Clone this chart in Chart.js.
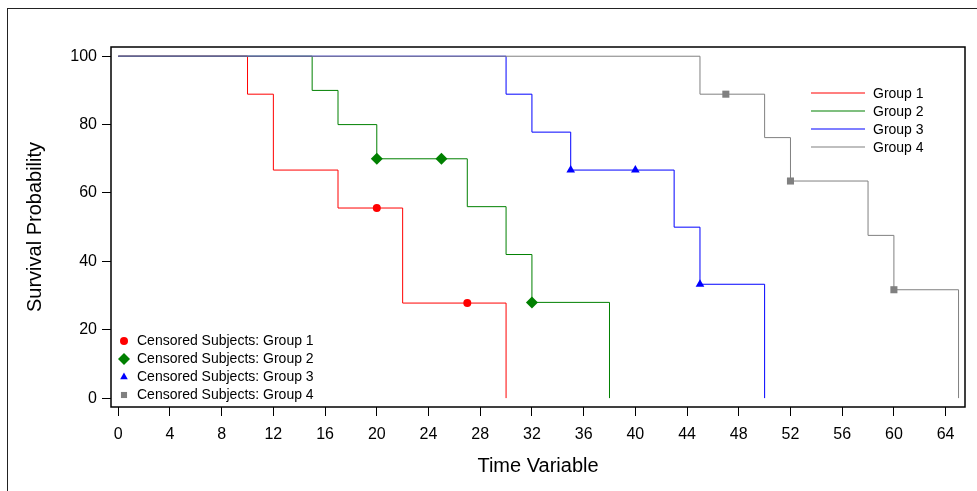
<!DOCTYPE html>
<html><head><meta charset="utf-8">
<script src="https://cdn.jsdelivr.net/npm/chart.js@4"></script>
<style>
html,body{margin:0;padding:0;background:#fff;}
#wrap{position:relative;width:977px;height:491px;overflow:hidden;background:#fff;}
#frame{position:absolute;left:7px;top:8px;width:1000px;height:600px;border-left:1px solid #222;border-top:1px solid #222;pointer-events:none;}
canvas{position:absolute;left:0;top:0;}
</style></head><body>
<div id="wrap"><canvas id="c" width="977" height="491"></canvas><div id="frame"></div></div>
<script>
// ---- data ----
const groupLabels = ['Group 1', 'Group 2', 'Group 3', 'Group 4'];
const censorLabels = ['Censored Subjects: Group 1', 'Censored Subjects: Group 2', 'Censored Subjects: Group 3', 'Censored Subjects: Group 4'];

const group1Times = [0, 10, 12, 17, 22, 30];
const group1Surv  = [100, 88.9, 66.7, 55.6, 27.8, 0];
const group2Times = [0, 15, 17, 20, 27, 30, 32, 38];
const group2Surv  = [100, 90, 80, 70, 56, 42, 28, 0];
const group3Times = [0, 30, 32, 35, 43, 45, 50];
const group3Surv  = [100, 88.9, 77.8, 66.7, 50, 33.3, 0];
const group4Times = [0, 45, 50, 52, 58, 60, 65];
const group4Surv  = [100, 88.9, 76.2, 63.5, 47.6, 31.7, 0];

const cens1Times = [20, 27];
const cens1Surv  = [55.6, 27.8];
const cens2Times = [20, 25, 32];
const cens2Surv  = [70, 70, 28];
const cens3Times = [35, 40, 45];
const cens3Surv  = [66.7, 66.7, 33.3];
const cens4Times = [47, 52, 60];
const cens4Surv  = [88.9, 63.5, 31.7];

const xTickValues = [0, 4, 8, 12, 16, 20, 24, 28, 32, 36, 40, 44, 48, 52, 56, 60, 64];
const yTickValues = [0, 20, 40, 60, 80, 100];

// ---- styles ----
const colors = ['#ff0000', '#008000', '#0000ff', '#808080'];
const pointStyles = ['circle', 'rectRot', 'triangle', 'rect'];
const pointRadii = [4, 6, 5, 5];
const legendRadii = [4, 6, 4.4, 4.3];
const FONT = "'Liberation Sans', Arial, sans-serif";

const toPts = (xs, ys) => xs.map((x, i) => ({x: x, y: ys[i]}));
const lineSets = [[group1Times, group1Surv], [group2Times, group2Surv], [group3Times, group3Surv], [group4Times, group4Surv]];
const censSets = [[cens1Times, cens1Surv], [cens2Times, cens2Surv], [cens3Times, cens3Surv], [cens4Times, cens4Surv]];

const datasets = [];
lineSets.forEach((s, i) => datasets.push({
  label: groupLabels[i], data: toPts(s[0], s[1]), borderColor: colors[i], backgroundColor: colors[i],
  borderWidth: 1, stepped: true, pointRadius: 0, fill: false, order: 10 - i
}));
censSets.forEach((s, i) => datasets.push({
  label: censorLabels[i], data: toPts(s[0], s[1]), showLine: false, borderColor: colors[i], backgroundColor: colors[i],
  pointStyle: pointStyles[i], pointRadius: pointRadii[i], pointBorderWidth: 0, pointHoverRadius: pointRadii[i], order: 1
}));

function marker(ctx, style, x, y, r) {
  ctx.beginPath();
  if (style === 'circle') ctx.arc(x, y, r, 0, Math.PI * 2);
  else if (style === 'rectRot') { ctx.moveTo(x - r, y); ctx.lineTo(x, y - r); ctx.lineTo(x + r, y); ctx.lineTo(x, y + r); ctx.closePath(); }
  else if (style === 'triangle') { ctx.moveTo(x, y - r); ctx.lineTo(x + r * 0.866, y + r * 0.5); ctx.lineTo(x - r * 0.866, y + r * 0.5); ctx.closePath(); }
  else { const s = r * Math.SQRT1_2; ctx.rect(x - s, y - s, 2 * s, 2 * s); }
  ctx.fill();
}

const decor = {
  id: 'decor',
  afterDraw(chart) {
    const {ctx, chartArea: a} = chart;
    ctx.save();
    ctx.strokeStyle = '#000'; ctx.lineWidth = 1.5;
    ctx.strokeRect(a.left, a.top, a.right - a.left, a.bottom - a.top);
    ctx.font = '14px ' + FONT; ctx.textBaseline = 'middle'; ctx.textAlign = 'left';
    // top-right legend (lines)
    groupLabels.forEach((lab, i) => {
      const y = Math.round(a.top + 46 + i * 18);
      ctx.strokeStyle = colors[i];
      ctx.lineWidth = 1.2;
      ctx.beginPath();
      ctx.moveTo(a.right - 154, y);
      ctx.lineTo(a.right - 100, y);
      ctx.stroke();
      ctx.fillStyle = '#000';
      ctx.fillText(lab, a.right - 92, y + 1);
    });
    // bottom-left legend (censored)
    censorLabels.forEach((lab, i) => {
      const y = a.bottom - 66 + i * 18;
      ctx.fillStyle = colors[i];
      marker(ctx, pointStyles[i], a.left + 13, y, legendRadii[i]);
      ctx.fillStyle = '#000';
      ctx.fillText(lab, a.left + 26, y);
    });
    ctx.restore();
  }
};

new Chart(document.getElementById('c'), {
  type: 'line',
  data: {datasets: datasets},
  options: {
    responsive: false, animation: false, events: [],
    layout: {padding: {top: 47, right: 12, left: 0, bottom: 0}},
    plugins: {legend: {display: false}, tooltip: {enabled: false}},
    scales: {
      x: {
        type: 'linear', min: -0.56, max: 65.5,
        afterBuildTicks: s => { s.ticks = xTickValues.map(v => ({value: v})); },
        afterFit: s => { s.height = 84; },
        grid: {drawOnChartArea: false, drawTicks: true, tickLength: 9, color: '#000', lineWidth: 1},
        border: {display: false},
        ticks: {color: '#000', font: {family: FONT, size: 16}, padding: 9, maxRotation: 0, autoSkip: false},
        title: {display: true, text: 'Time Variable', color: '#000', font: {family: FONT, size: 20}, padding: {top: 0, bottom: 13}}
      },
      y: {
        type: 'linear', min: -2.6, max: 102.7,
        afterBuildTicks: s => { s.ticks = yTickValues.map(v => ({value: v})); },
        afterFit: s => { s.width = 111; },
        grid: {drawOnChartArea: false, drawTicks: true, tickLength: 9, color: '#000', lineWidth: 1},
        border: {display: false},
        ticks: {color: '#000', font: {family: FONT, size: 16}, padding: 5},
        title: {display: true, text: 'Survival Probability', color: '#000', font: {family: FONT, size: 20}, padding: {top: 23, bottom: 0}}
      }
    }
  },
  plugins: [decor]
});
</script>
</body></html>
